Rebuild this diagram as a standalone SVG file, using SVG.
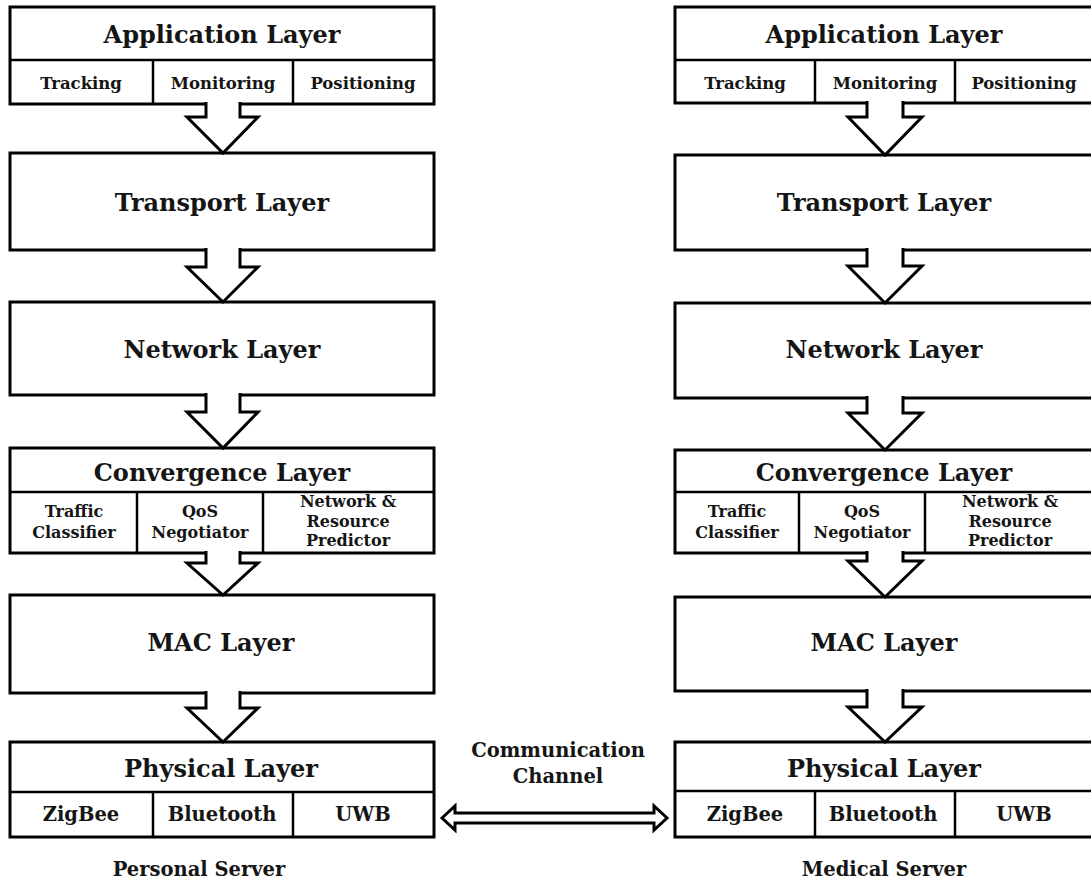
<svg xmlns="http://www.w3.org/2000/svg" width="1091" height="879" viewBox="0 0 1091 879">
<style>
.box{fill:#fff;stroke:#000;stroke-width:3}
.div{stroke:#000;stroke-width:2.5;fill:none}
.arr{fill:#fff;stroke:#000;stroke-width:3;stroke-linejoin:miter}
text{font-family:"DejaVu Serif","Liberation Serif",serif;font-weight:bold;fill:#151515;text-anchor:middle}
.tt{font-size:24px}
.ts{font-size:16.5px}
.tc{font-size:16px}
.tp{font-size:19.5px}
.tl{font-size:19.5px}
</style>
<rect width="1091" height="879" fill="#fff"/>

<!-- Left column: Personal Server -->
<g id="app-left">
<rect class="box" x="10" y="7" width="424" height="97"/>
<line class="div" x1="10" y1="60" x2="434" y2="60"/>
<line class="div" x1="153" y1="60" x2="153" y2="104"/>
<line class="div" x1="293" y1="60" x2="293" y2="104"/>
<text class="tt" x="222" y="43">Application Layer</text>
<text class="ts" x="81" y="89">Tracking</text>
<text class="ts" x="223" y="89">Monitoring</text>
<text class="ts" x="363" y="89">Positioning</text>
</g>
<g id="transport-left">
<rect class="box" x="10" y="153" width="424" height="97"/>
<text class="tt" x="222" y="211">Transport Layer</text>
</g>
<g id="network-left">
<rect class="box" x="10" y="302" width="424" height="93"/>
<text class="tt" x="222" y="358">Network Layer</text>
</g>
<g id="convergence-left">
<rect class="box" x="10" y="448" width="424" height="105"/>
<line class="div" x1="10" y1="492" x2="434" y2="492"/>
<line class="div" x1="137" y1="492" x2="137" y2="553"/>
<line class="div" x1="263" y1="492" x2="263" y2="553"/>
<text class="tt" x="222" y="481">Convergence Layer</text>
<text class="tc" x="74" y="517">Traffic</text>
<text class="tc" x="74" y="538">Classifier</text>
<text class="tc" x="200" y="517">QoS</text>
<text class="tc" x="200" y="538">Negotiator</text>
<text class="tc" x="348" y="507">Network &amp;</text>
<text class="tc" x="348" y="527">Resource</text>
<text class="tc" x="348" y="546">Predictor</text>
</g>
<g id="mac-left">
<rect class="box" x="10" y="595" width="424" height="98"/>
<text class="tt" x="221" y="651">MAC Layer</text>
</g>
<g id="physical-left">
<rect class="box" x="10" y="742" width="424" height="95"/>
<line class="div" x1="10" y1="792" x2="434" y2="792"/>
<line class="div" x1="153" y1="792" x2="153" y2="837"/>
<line class="div" x1="293" y1="792" x2="293" y2="837"/>
<text class="tt" x="221" y="777">Physical Layer</text>
<text class="tp" x="81" y="821">ZigBee</text>
<text class="tp" x="222" y="821">Bluetooth</text>
<text class="tp" x="363" y="821">UWB</text>
</g>
<g id="label-personal">
<text class="tl" x="199" y="876">Personal Server</text>
</g>

<!-- Right column: Medical Server -->
<g id="app-right">
<rect class="box" x="675" y="7" width="420" height="96"/>
<line class="div" x1="675" y1="60" x2="1095" y2="60"/>
<line class="div" x1="815" y1="60" x2="815" y2="103"/>
<line class="div" x1="955" y1="60" x2="955" y2="103"/>
<text class="tt" x="884" y="43">Application Layer</text>
<text class="ts" x="745" y="89">Tracking</text>
<text class="ts" x="885" y="89">Monitoring</text>
<text class="ts" x="1024" y="89">Positioning</text>
</g>
<g id="transport-right">
<rect class="box" x="675" y="155" width="420" height="95"/>
<text class="tt" x="884" y="211">Transport Layer</text>
</g>
<g id="network-right">
<rect class="box" x="675" y="303" width="420" height="95"/>
<text class="tt" x="884" y="358">Network Layer</text>
</g>
<g id="convergence-right">
<rect class="box" x="675" y="450" width="420" height="103"/>
<line class="div" x1="675" y1="492" x2="1095" y2="492"/>
<line class="div" x1="799" y1="492" x2="799" y2="553"/>
<line class="div" x1="925" y1="492" x2="925" y2="553"/>
<text class="tt" x="884" y="481">Convergence Layer</text>
<text class="tc" x="737" y="517">Traffic</text>
<text class="tc" x="737" y="538">Classifier</text>
<text class="tc" x="862" y="517">QoS</text>
<text class="tc" x="862" y="538">Negotiator</text>
<text class="tc" x="1010" y="507">Network &amp;</text>
<text class="tc" x="1010" y="527">Resource</text>
<text class="tc" x="1010" y="546">Predictor</text>
</g>
<g id="mac-right">
<rect class="box" x="675" y="597" width="420" height="94"/>
<text class="tt" x="884" y="651">MAC Layer</text>
</g>
<g id="physical-right">
<rect class="box" x="675" y="742" width="420" height="95"/>
<line class="div" x1="675" y1="791" x2="1095" y2="791"/>
<line class="div" x1="815" y1="791" x2="815" y2="837"/>
<line class="div" x1="955" y1="791" x2="955" y2="837"/>
<text class="tt" x="884" y="777">Physical Layer</text>
<text class="tp" x="745" y="821">ZigBee</text>
<text class="tp" x="883" y="821">Bluetooth</text>
<text class="tp" x="1024" y="821">UWB</text>
</g>
<g id="label-medical">
<text class="tl" x="884" y="876">Medical Server</text>
</g>

<g id="label-channel">
<text class="tl" x="558" y="757">Communication</text>
<text class="tl" x="558" y="783">Channel</text>
</g>

<!-- Connectors -->
<g id="connectors">
<path class="arr" d="M206,102 V117 H187 L223,153 L258,117 H240 V102"/>
<path class="arr" d="M206,248 V267 H187 L223,302 L258,267 H240 V248"/>
<path class="arr" d="M206,393 V412 H187 L223,448 L258,412 H240 V393"/>
<path class="arr" d="M206,551 V563 H187 L223,595 L258,563 H240 V551"/>
<path class="arr" d="M206,691 V708 H187 L223,742 L258,708 H240 V691"/>

<path class="arr" d="M867,101 V117 H848 L885,155 L922,117 H903 V101"/>
<path class="arr" d="M867,248 V266 H848 L885,303 L922,266 H903 V248"/>
<path class="arr" d="M867,396 V413 H848 L885,450 L922,413 H903 V396"/>
<path class="arr" d="M867,551 V561 H848 L885,597 L922,561 H903 V551"/>
<path class="arr" d="M867,689 V707 H848 L885,742 L922,707 H903 V689"/>

<path class="arr" d="M442,818 L455,806 V813 H654 V806 L667,818 L654,830 V823 H455 V830 Z"/>
</g>
</svg>
